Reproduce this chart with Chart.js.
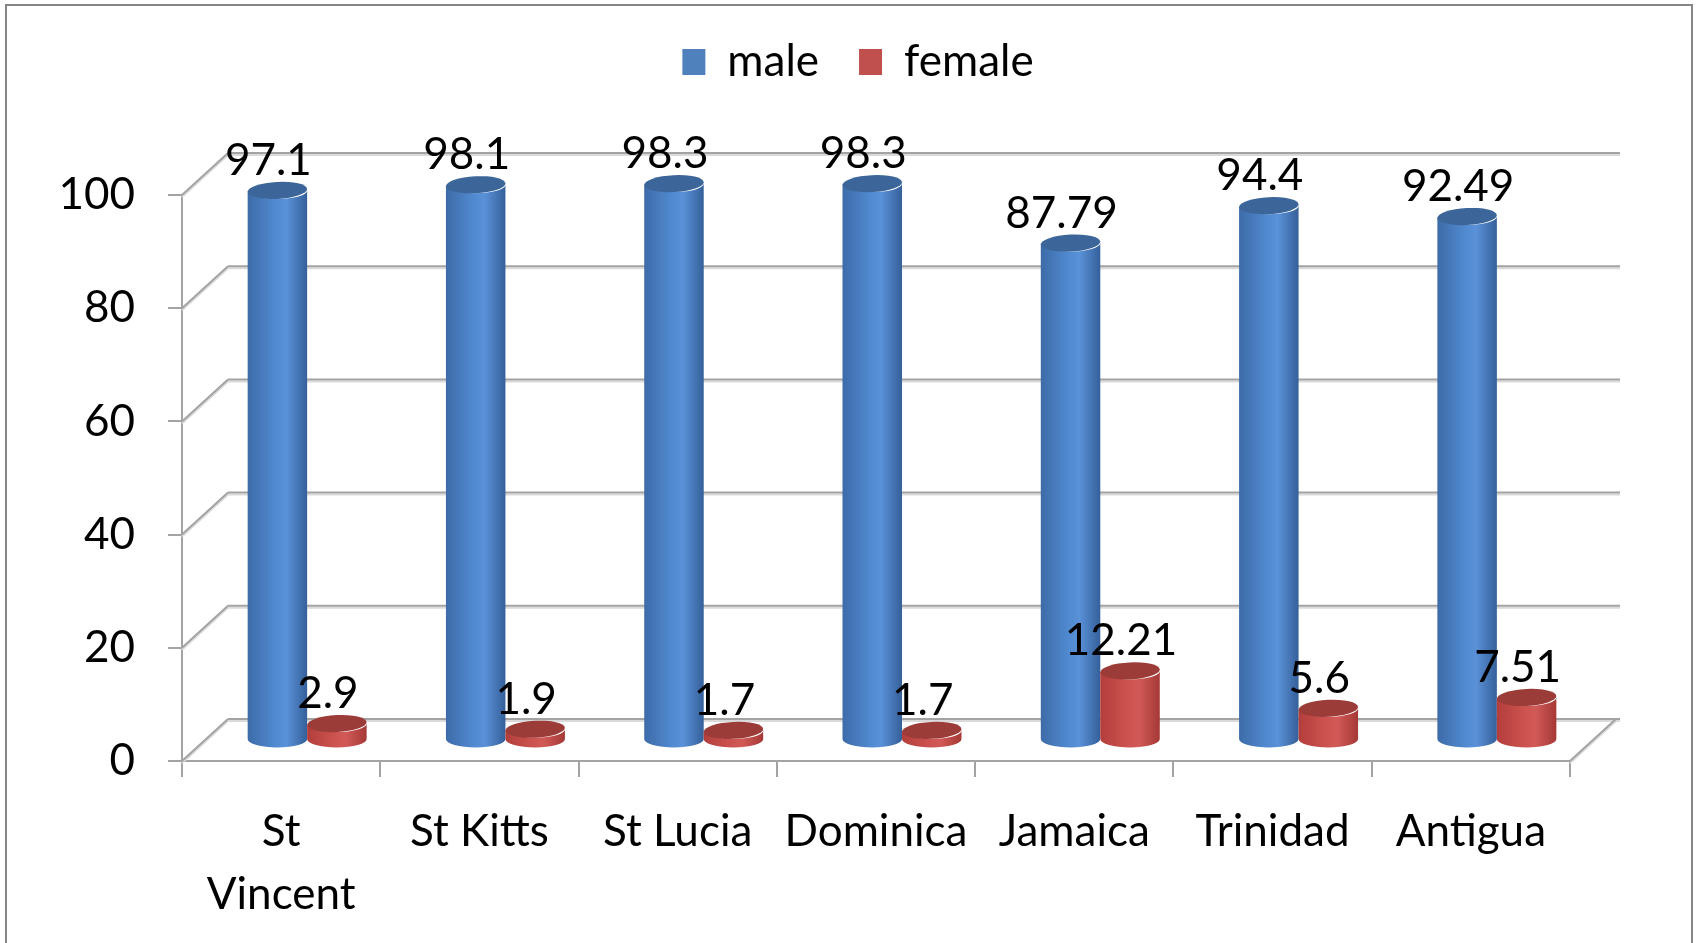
<!DOCTYPE html>
<html>
<head>
<meta charset="utf-8">
<script src="https://cdn.jsdelivr.net/npm/chart.js@4.4.0/dist/chart.umd.min.js"></script>
<style>
    html, body { margin: 0; padding: 0; background: #fff; }
</style>
</head>
<body>
<canvas id="myChart" width="1698" height="943"></canvas>
<script>
// Data dari gambar
const negara = [['St', 'Vincent'], 'St Kitts', 'St Lucia', 'Dominica', 'Jamaica', 'Trinidad', 'Antigua'];
const nilaiMale = [97.1, 98.1, 98.3, 98.3, 87.79, 94.4, 92.49];
const nilaiFemale = [2.9, 1.9, 1.7, 1.7, 12.21, 5.6, 7.51];
const tickY = [0, 20, 40, 60, 80, 100];

document.addEventListener("DOMContentLoaded", function() {
    const chart = document.getElementById('myChart');
    const FONT = "Lato, 'Open Sans', sans-serif";
    const UKURAN = 44;

    const DX = 46, DY = -42;   // kedalaman dinding belakang
    const MX = 26, MY = -21;   // posisi silinder (tengah)
    const RY = 8.5;            // tinggi elips silinder

    const warna = [
        { body: [[0, '#3d6ba8'], [0.45, '#5089cf'], [0.65, '#5a91d8'], [1, '#35609a']], top: '#3c6699' },
        { body: [[0, '#b23e3b'], [0.45, '#cc524f'], [0.65, '#d15a57'], [1, '#a53835']], top: '#9c3c39' }
    ];

    function garis(ctx, x1, y1, x2, y2) {
        ctx.strokeStyle = '#dadada';
        ctx.lineWidth = 2;
        ctx.beginPath(); ctx.moveTo(x1, y1 + 2); ctx.lineTo(x2, y2 + 2); ctx.stroke();
        ctx.strokeStyle = '#a3a3a3';
        ctx.lineWidth = 2;
        ctx.beginPath(); ctx.moveTo(x1, y1); ctx.lineTo(x2, y2); ctx.stroke();
    }

    function silinder(ctx, cx, yTop, yBot, w, c) {
        const rx = w / 2;
        const grad = ctx.createLinearGradient(cx - rx, 0, cx + rx, 0);
        c.body.forEach(function(s) { grad.addColorStop(s[0], s[1]); });
        ctx.fillStyle = grad;
        ctx.beginPath();
        ctx.moveTo(cx - rx, yTop);
        ctx.lineTo(cx - rx, yBot);
        ctx.ellipse(cx, yBot, rx, RY, 0, Math.PI, 0, true);
        ctx.lineTo(cx + rx, yTop);
        ctx.ellipse(cx, yTop, rx, RY, 0, 0, Math.PI, false);
        ctx.closePath();
        ctx.fill();
        // tutup atas
        ctx.fillStyle = c.top;
        ctx.beginPath();
        ctx.ellipse(cx, yTop, rx, RY, -0.05, 0, Math.PI * 2);
        ctx.fill();
    }

    const silinder3D = {
        id: 'silinder3D',
        beforeInit(c) {
            // beri ruang antara legend dan area chart
            const fitAsli = c.legend.fit;
            c.legend.fit = function() {
                fitAsli.call(this);
                this.height = 195;
            };
        },
        afterLayout(c) {
            // legend sedikit ke kanan seperti aslinya
            c.legend.left += 73;
            c.legend.right += 73;
        },
        beforeDraw(c) {
            const ctx = c.ctx;
            ctx.save();
            ctx.strokeStyle = '#868686';
            ctx.lineWidth = 2;
            ctx.strokeRect(6, 5, 1686, 980);
            ctx.restore();
        },
        beforeDatasetsDraw(c) {
            const ctx = c.ctx, y = c.scales.y, ca = c.chartArea;
            ctx.save();
            y.ticks.forEach(function(t) {
                const py = y.getPixelForValue(t.value);
                garis(ctx, ca.left, py, ca.left + DX, py + DY);
                garis(ctx, ca.left + DX, py + DY, ca.right + DX + 4, py + DY);
            });
            const y0 = y.getPixelForValue(0);
            garis(ctx, ca.right, y0, ca.right + DX, y0 + DY);
            ctx.restore();
        },
        beforeDatasetDraw() {
            return false; // batang asli tidak digambar
        },
        afterDatasetsDraw(c) {
            const ctx = c.ctx;
            const metas = [c.getDatasetMeta(0), c.getDatasetMeta(1)];
            ctx.save();
            for (let i = 0; i < negara.length; i++) {
                metas.forEach(function(m, d) {
                    const bar = m.data[i];
                    silinder(ctx, bar.x + MX, bar.y + MY, bar.base + MY, bar.width, warna[d]);
                });
            }
            ctx.fillStyle = '#000';
            ctx.font = UKURAN + 'px ' + FONT;
            ctx.textAlign = 'center';
            ctx.textBaseline = 'alphabetic';
            for (let i = 0; i < negara.length; i++) {
                metas.forEach(function(m, d) {
                    const bar = m.data[i];
                    const v = c.data.datasets[d].data[i];
                    ctx.fillText(String(v), bar.x + MX - 9, bar.y + MY - RY - 7);
                });
            }
            ctx.restore();
        }
    };

    const config = {
        type: 'bar',
        data: {
            labels: negara,
            datasets: [{
                    label: 'male',
                    data: nilaiMale,
                    backgroundColor: '#4f81bd',
                    categoryPercentage: 0.6,
                    barPercentage: 1
                },
                {
                    label: 'female',
                    data: nilaiFemale,
                    backgroundColor: '#c0504d',
                    categoryPercentage: 0.6,
                    barPercentage: 1
                }
            ]
        },
        options: {
            responsive: false,
            animation: false,
            devicePixelRatio: 1,
            layout: { padding: { left: 0, right: 128, top: 0, bottom: 0 } },
            scales: {
                x: {
                    afterFit: function(s) { s.height = 182; },
                    grid: { drawOnChartArea: false, tickLength: 16, color: '#a3a3a3', lineWidth: 2 },
                    border: { color: '#a3a3a3', width: 2 },
                    ticks: {
                        autoSkip: false, maxRotation: 0, padding: 23, color: '#000',
                        font: { family: FONT, size: UKURAN, lineHeight: 1.43 }
                    }
                },
                y: {
                    min: 0,
                    max: 100,
                    afterFit: function(s) { s.width = 182; },
                    afterBuildTicks: function(s) { s.ticks = tickY.map(function(v) { return { value: v }; }); },
                    grid: { drawOnChartArea: false, tickLength: 14, color: '#a3a3a3', lineWidth: 2 },
                    border: { color: '#a3a3a3', width: 2 },
                    ticks: { padding: 33, color: '#000', font: { family: FONT, size: UKURAN } }
                }
            },
            plugins: {
                legend: {
                    position: 'top',
                    labels: {
                        boxWidth: 23, boxHeight: 26, padding: 40, color: '#000',
                        font: { family: FONT, size: UKURAN }
                    }
                },
                tooltip: { enabled: false }
            }
        },
        plugins: [silinder3D]
    };

    new Chart(chart, config);
});
</script>
</body>
</html>
